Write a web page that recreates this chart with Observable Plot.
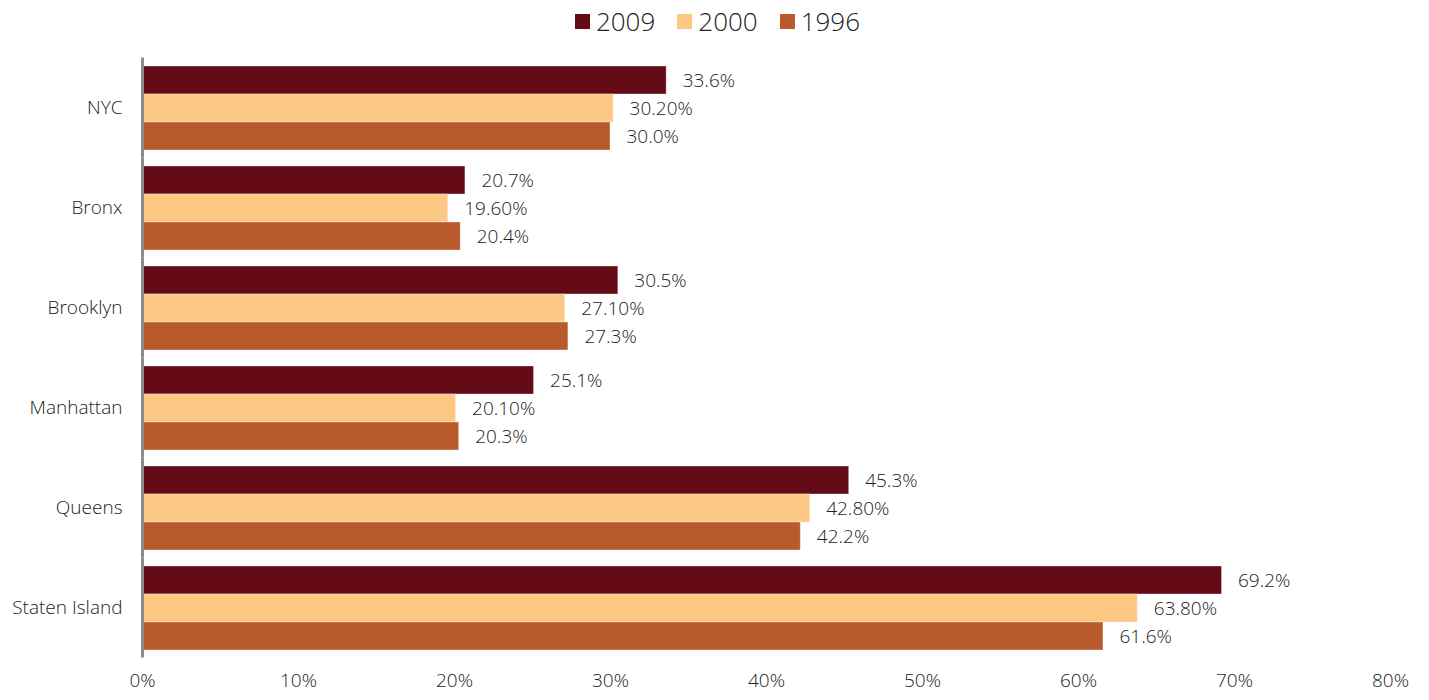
<!DOCTYPE html>
<html>
<head>
<meta charset="utf-8">
<script src="https://cdn.jsdelivr.net/npm/d3@7"></script>
<script src="https://cdn.jsdelivr.net/npm/@observablehq/plot@0.6"></script>
<style>
  body { margin: 0; background: #fff; font-family: "Open Sans", sans-serif; font-weight: 300; color: #222; }
  #legend { height: 42px; display: flex; justify-content: center; align-items: center; gap: 22px; font-size: 26px; padding-left: 6px; box-sizing: border-box; }
  #legend .item { display: flex; align-items: center; gap: 6px; }
  #legend .sw { width: 15px; height: 15px; display: inline-block; }
  svg text { font-weight: 300; }
</style>
</head>
<body>
<div id="legend"></div>
<div id="chart"></div>
<script>
const categories = ["NYC", "Bronx", "Brooklyn", "Manhattan", "Queens", "Staten Island"];
const years = ["2009", "2000", "1996"];
const v2009 = [33.6, 20.7, 30.5, 25.1, 45.3, 69.2];
const v2000 = [30.2, 19.6, 27.1, 20.1, 42.8, 63.8];
const v1996 = [30.0, 20.4, 27.3, 20.3, 42.2, 61.6];
const decimals = [1, 2, 1];
const colors = ["#650b16", "#fdc784", "#b85a2c"];
const xTicks = [0, 10, 20, 30, 40, 50, 60, 70, 80];

const series = [v2009, v2000, v1996];
const data = categories.flatMap((c, i) => years.map((y, j) => ({
  cat: c, year: y, value: series[j][i], label: series[j][i].toFixed(decimals[j]) + "%"
})));

const legend = document.getElementById("legend");
years.forEach((y, j) => {
  const it = document.createElement("div");
  it.className = "item";
  it.innerHTML = `<span class="sw" style="background:${colors[j]}"></span><span>${y}</span>`;
  legend.appendChild(it);
});

const chart = Plot.plot({
  width: 1429,
  height: 658,
  marginTop: 15,
  marginBottom: 42,
  marginLeft: 142,
  marginRight: 39,
  style: { fontFamily: "'Open Sans', sans-serif", fontSize: "19px", color: "#222", background: "#fff" },
  x: { domain: [0, 80] },
  y: { domain: years, padding: 0 },
  fy: { domain: categories, paddingInner: 0.15, paddingOuter: 0.075 },
  color: { domain: years, range: colors },
  marks: [
    Plot.barX(data, { fy: "cat", y: "year", x: "value", fill: "year", stroke: "#fff", strokeOpacity: 0.35, strokeWidth: 1 }),
    Plot.text(data, { fy: "cat", y: "year", x: "value", text: "label", dx: 16, textAnchor: "start", fill: "#222", fontSize: 19 }),
    Plot.ruleX([0], { stroke: "#8c8c8c", strokeWidth: 3, insetTop: -7.5, insetBottom: -7.5 }),
    Plot.axisX({ ticks: xTicks, tickFormat: d => d + "%", tickSize: 0, tickPadding: 23, fontSize: 19, label: null, fill: "#222" }),
    Plot.axisFy({ anchor: "left", tickSize: 0, tickPadding: 20, fontSize: 19, label: null, fill: "#222" }),
    Plot.axisY({ ticks: [], label: null, tickSize: 0 })
  ]
});
document.getElementById("chart").appendChild(chart);
</script>
</body>
</html>
